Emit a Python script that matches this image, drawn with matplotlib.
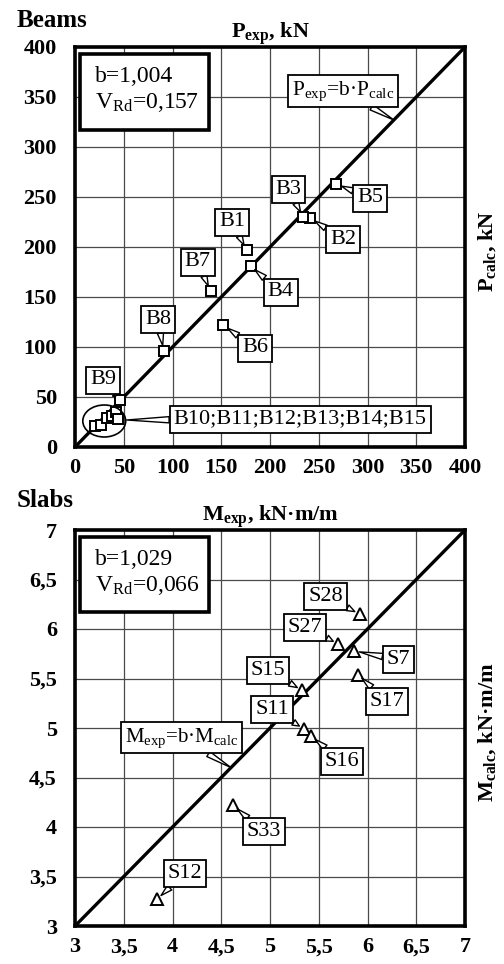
import matplotlib
matplotlib.use("Agg")
import matplotlib.pyplot as plt
from matplotlib.patches import Ellipse, Rectangle
from matplotlib.ticker import FuncFormatter, MultipleLocator

plt.rcParams['font.family'] = ['Liberation Serif', 'DejaVu Serif']
plt.rcParams['mathtext.fontset'] = 'custom'
plt.rcParams['mathtext.rm'] = 'Liberation Serif'
plt.rcParams['mathtext.it'] = 'Liberation Serif:italic'
plt.rcParams['mathtext.bf'] = 'Liberation Serif:bold'

# ---------------- data: Beams ----------------
beam_names = ["B1", "B2", "B3", "B4", "B5", "B6", "B7", "B8", "B9"]
beam_exp = [176, 241, 234, 180, 268, 152, 139, 91, 46]
beam_calc = [197, 229, 230, 181, 263, 122, 156, 96, 47]
cluster_names = "B10;B11;B12;B13;B14;B15"
cluster_exp = [20, 27, 33, 38, 42, 44]
cluster_calc = [21, 22, 29, 31, 35, 28]
beam_b = "1,004"
beam_v = "0,157"

# ---------------- data: Slabs ----------------
slab_names = ["S28", "S27", "S7", "S17", "S15", "S11", "S16", "S33", "S12"]
slab_exp = [5.92, 5.70, 5.86, 5.90, 5.33, 5.35, 5.42, 4.62, 3.84]
slab_calc = [6.15, 5.85, 5.78, 5.54, 5.38, 4.99, 4.92, 4.22, 3.27]
slab_b = "1,029"
slab_v = "0,066"

# label positions (layout)
beam_label_pos = [(161, 225), (275, 208), (219, 258), (211, 155), (303, 249),
                  (185, 99), (126, 185), (85, 128), (29, 67)]
slab_label_pos = [(5.57, 6.33), (5.36, 6.02), (6.32, 5.69), (6.20, 5.27),
                  (4.98, 5.58), (5.02, 5.19), (5.74, 4.66), (4.94, 3.95), (4.13, 3.53)]

W, H = 504, 964
fig = plt.figure(figsize=(W / 100, H / 100), dpi=100)
ax1 = fig.add_axes([75 / W, 1 - 447 / H, 390 / W, 400 / H])
ax2 = fig.add_axes([75 / W, 1 - 926 / H, 390 / W, 396 / H])

box_kw = dict(boxstyle='square,pad=0.18', fc='white', ec='black', lw=1.3)
arrow_kw = dict(arrowstyle='wedge,tail_width=0.28', fc='white', ec='black', lw=1.0,
                shrinkA=0, shrinkB=4)


def style_axes(ax, lo, hi, step, fmt):
    ax.set_xlim(lo, hi)
    ax.set_ylim(lo, hi)
    ax.xaxis.set_major_locator(MultipleLocator(step))
    ax.yaxis.set_major_locator(MultipleLocator(step))
    ax.xaxis.set_major_formatter(FuncFormatter(fmt))
    ax.yaxis.set_major_formatter(FuncFormatter(fmt))
    ax.grid(True, color='#4a4a4a', lw=0.9)
    ax.set_axisbelow(True)
    for s in ax.spines.values():
        s.set_linewidth(2.6)
        s.set_color('black')
    ax.tick_params(axis='y', length=0, pad=13, labelsize=16)
    ax.tick_params(axis='x', length=0, pad=8, labelsize=16)
    for lab in ax.get_xticklabels() + ax.get_yticklabels():
        lab.set_fontweight('bold')
    ax.plot([lo, hi], [lo, hi], color='black', lw=2.4, zorder=3, solid_capstyle='butt')


def fmt_int(v, p):
    return f"{v:.0f}"


def fmt_comma(v, p):
    s = f"{v:g}"
    return s.replace('.', ',')


style_axes(ax1, 0, 400, 50, fmt_int)
style_axes(ax2, 3, 7, 0.5, fmt_comma)

# ---- Beams ----
ax1.plot(beam_exp, beam_calc, ls='none', marker='s', ms=7.5, mfc='white', mec='black', mew=1.4, zorder=5)
ax1.plot(cluster_exp, cluster_calc, ls='none', marker='s', ms=7.5, mfc='white', mec='black', mew=1.4, zorder=5)
for n, x, y, p in zip(beam_names, beam_exp, beam_calc, beam_label_pos):
    ax1.annotate(n, xy=(x, y), xytext=p, ha='center', va='center', fontsize=16,
                 bbox=box_kw, arrowprops=arrow_kw, zorder=6)
ax1.add_patch(Ellipse((30, 26), 44, 32, fill=False, ec='black', lw=1.2, zorder=6))
ax1.annotate(cluster_names, xy=(53, 27), xytext=(231, 28), ha='center', va='center', fontsize=16,
             bbox=box_kw, arrowprops=dict(arrow_kw, shrinkB=0), zorder=6)
ax1.annotate(r'P$_{\mathrm{exp}}$=b·P$_{\mathrm{calc}}$', xy=(327, 327), xytext=(275, 356),
             ha='center', va='center', fontsize=15.5, bbox=box_kw,
             arrowprops=dict(arrow_kw, shrinkB=0), zorder=6)

# ---- Slabs ----
ax2.plot(slab_exp, slab_calc, ls='none', marker='^', ms=8.5, mfc='white', mec='black', mew=1.4, zorder=5)
for n, x, y, p in zip(slab_names, slab_exp, slab_calc, slab_label_pos):
    ax2.annotate(n, xy=(x, y), xytext=p, ha='center', va='center', fontsize=16,
                 bbox=box_kw, arrowprops=arrow_kw, zorder=6)
ax2.annotate(r'M$_{\mathrm{exp}}$=b·M$_{\mathrm{calc}}$', xy=(4.6, 4.6), xytext=(4.09, 4.90),
             ha='center', va='center', fontsize=15, bbox=box_kw,
             arrowprops=dict(arrow_kw, shrinkB=0), zorder=6)

# stat boxes
for ax, b, v in [(ax1, beam_b, beam_v), (ax2, slab_b, slab_v)]:
    ax.add_patch(Rectangle((0.013, 0.793), 0.331, 0.189, transform=ax.transAxes,
                           fill=True, fc='white', ec='black', lw=2.6, zorder=7))
    ax.text(0.051, 0.925, f"b={b}", transform=ax.transAxes, fontsize=17, va='center', ha='left', zorder=8)
    ax.text(0.051, 0.86, r'V$_{\mathrm{Rd}}$=' + v, transform=ax.transAxes, fontsize=17,
            va='center', ha='left', zorder=8)

# axis titles
ax1.set_title(r'P$_{\mathbf{exp}}$, kN', fontsize=16, fontweight='bold', pad=5)
ax2.set_title(r'M$_{\mathbf{exp}}$, kN·m/m', fontsize=16, fontweight='bold', pad=5)
ax1.text(1.056, 0.49, r'P$_{\mathbf{calc}}$, kN', transform=ax1.transAxes, rotation=90,
         ha='center', va='center', fontsize=16, fontweight='bold')
ax2.text(1.056, 0.49, r'M$_{\mathbf{calc}}$, kN·m/m', transform=ax2.transAxes, rotation=90,
         ha='center', va='center', fontsize=16, fontweight='bold')

fig.text(17 / W, 1 - 27 / H, 'Beams', fontsize=18, fontweight='bold', va='baseline', ha='left')
fig.text(17 / W, 1 - 507 / H, 'Slabs', fontsize=18, fontweight='bold', va='baseline', ha='left')

fig.savefig('out.png', dpi=100)
